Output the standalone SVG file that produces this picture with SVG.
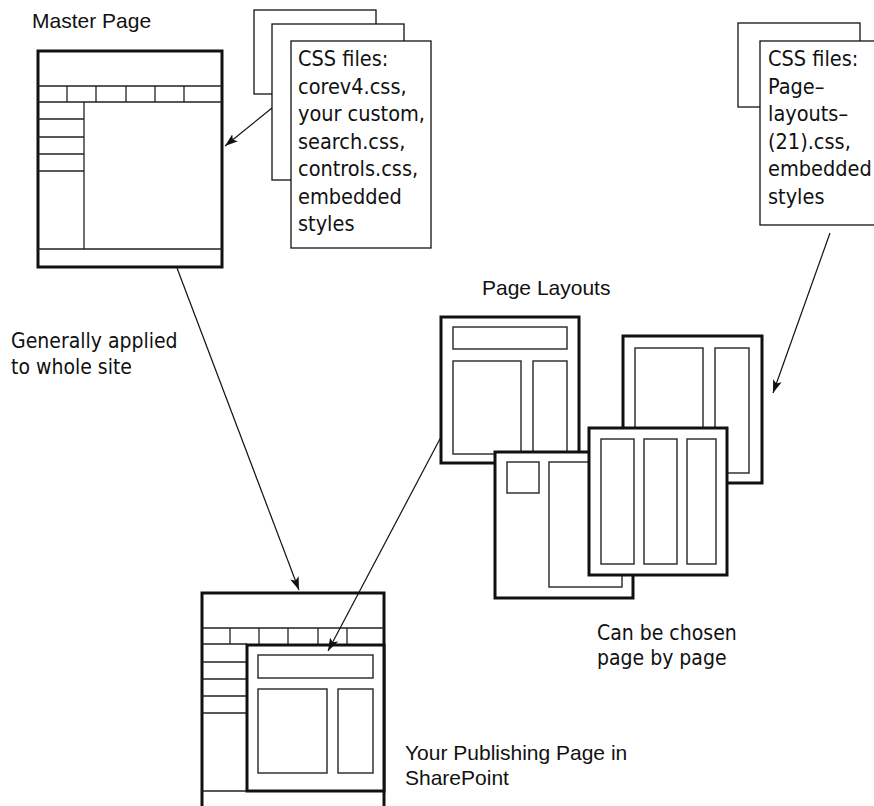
<svg xmlns="http://www.w3.org/2000/svg" width="874" height="806" viewBox="0 0 874 806">
<style>
.bg{fill:#fff}
.thick{fill:#fff;stroke:#111;stroke-width:3}
.thin{fill:none;stroke:#222;stroke-width:1.3}
.inner{fill:#fff;stroke:#333;stroke-width:1.5}
.paper{fill:#fff;stroke:#111;stroke-width:1.3}
.lbl{font-family:"Liberation Sans",Arial,sans-serif;font-size:21px;fill:#111}
.cond{font-family:"DejaVu Sans Condensed","Liberation Sans Narrow","DejaVu Sans",sans-serif;font-stretch:condensed;font-size:21px;fill:#111}
.css{font-size:21.5px}
.conn{fill:none;stroke:#111;stroke-width:1.2}
</style>
<defs>
<marker id="arr" markerUnits="userSpaceOnUse" markerWidth="14" markerHeight="10" refX="13" refY="5" orient="auto">
<path d="M0,0.5 L13,5 L0,9.5 L3,5 z" fill="#111"/>
</marker>
</defs>
<rect class="bg" x="0" y="0" width="874" height="806"/>

<g id="master-page">
<text class="lbl" x="32" y="28">Master Page</text>
<rect class="thick" x="38" y="51" width="184" height="216"/>
<path class="thin" d="M38,86H222M38,102H222M67,86V102M96,86V102M126,86V102M155,86V102M184,86V102M84,102V249M38,119H84M38,137H84M38,154H84M38,171H84M38,249H222"/>
</g>

<g id="css-master">
<rect class="paper" x="254" y="10" width="122" height="84"/>
<rect class="paper" x="272" y="24" width="132" height="156"/>
<rect class="paper" x="291" y="41" width="140" height="207"/>
<text class="cond css"><tspan x="298" y="66">CSS files:</tspan><tspan x="298" y="93.5">corev4.css,</tspan><tspan x="298" y="121">your custom,</tspan><tspan x="298" y="148.5">search.css,</tspan><tspan x="298" y="176">controls.css,</tspan><tspan x="298" y="203.5">embedded</tspan><tspan x="298" y="231">styles</tspan></text>
</g>

<g id="css-layouts">
<rect class="paper" x="738" y="23" width="122" height="84"/>
<rect class="paper" x="760" y="41" width="130" height="184"/>
<text class="cond css"><tspan x="768" y="66">CSS files:</tspan><tspan x="768" y="93.5">Page–</tspan><tspan x="768" y="121">layouts–</tspan><tspan x="768" y="148.5">(21).css,</tspan><tspan x="768" y="176">embedded</tspan><tspan x="768" y="203.5">styles</tspan></text>
</g>

<g id="general-label">
<text class="cond"><tspan x="11" y="348">Generally applied</tspan><tspan x="11" y="374">to whole site</tspan></text>
</g>

<g id="page-layouts">
<text class="lbl" x="482" y="295">Page Layouts</text>
<g id="layout1">
<rect class="thick" x="441" y="317" width="138" height="146"/>
<rect class="inner" x="453" y="327" width="114" height="22"/>
<rect class="inner" x="453" y="361" width="68" height="93"/>
<rect class="inner" x="533" y="361" width="34" height="93"/>
</g>
<g id="layout2">
<rect class="thick" x="623" y="336" width="139" height="147"/>
<rect class="inner" x="635" y="348" width="68" height="125"/>
<rect class="inner" x="715" y="348" width="34" height="125"/>
</g>
<g id="layout3">
<rect class="thick" x="495" y="452" width="138" height="146"/>
<rect class="inner" x="507" y="462" width="32" height="31"/>
<rect class="inner" x="549" y="462" width="73" height="125"/>
</g>
<g id="layout4">
<rect class="thick" x="589" y="428" width="138" height="147"/>
<rect class="inner" x="601" y="439" width="33" height="125"/>
<rect class="inner" x="644" y="439" width="33" height="125"/>
<rect class="inner" x="687" y="439" width="29" height="125"/>
</g>
</g>

<g id="choose-label">
<text class="cond"><tspan x="597" y="640">Can be chosen</tspan><tspan x="597" y="665">page by page</tspan></text>
</g>

<g id="publishing-page">
<rect class="thick" x="202" y="593" width="182" height="230"/>
<path class="thin" d="M202,628H384M230,628V644M259,628V644M288,628V644M318,628V644M347,628V644M202,644H247M202,662H247M202,679H247M202,696H247M202,713H247M202,791H247"/>
<rect class="thick" x="247" y="645" width="137" height="146"/>
<rect class="inner" x="258" y="655" width="115" height="23"/>
<rect class="inner" x="258" y="689" width="69" height="84"/>
<rect class="inner" x="338" y="689" width="35" height="84"/>
<text class="lbl"><tspan x="405" y="760">Your Publishing Page in</tspan><tspan x="405" y="785">SharePoint</tspan></text>
</g>

<g id="connectors">
<line class="conn" x1="272" y1="108" x2="225" y2="146" marker-end="url(#arr)"/>
<line class="conn" x1="177" y1="268" x2="299" y2="590" marker-end="url(#arr)"/>
<line class="conn" x1="830" y1="233" x2="773" y2="393" marker-end="url(#arr)"/>
<line class="conn" x1="441" y1="437" x2="328" y2="651" marker-end="url(#arr)"/>
</g>
</svg>
